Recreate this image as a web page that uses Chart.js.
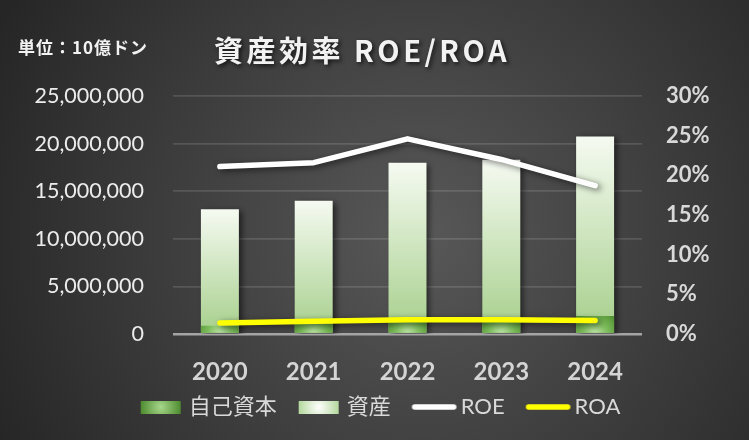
<!DOCTYPE html>
<html>
<head>
<meta charset="utf-8">
<script src="https://cdn.jsdelivr.net/npm/chart.js@4.4.1/dist/chart.umd.min.js"></script>
<style>
  html, body { margin: 0; padding: 0; background: #2b2b2b; }
  #wrap { width: 749px; height: 440px; }
  canvas { display: block; }
</style>
</head>
<body>
<div id="wrap"><canvas id="c" width="749" height="440"></canvas></div>
<script>
// Fiscal years on the category axis
const years = ['2020', '2021', '2022', '2023', '2024'];
// Equity and total assets (unit: billion VND)
const equity = [870000, 1040000, 1320000, 1500000, 1890000];
const assets = [13100000, 14000000, 18000000, 18300000, 20750000];
// Return ratios in percent
const roe = [21.1, 21.6, 24.6, 22.0, 18.7];
const roa = [1.4, 1.6, 1.8, 1.8, 1.7];
// Axis ranges
const amountAxis = [0, 25000000, 5000000];
const rateAxis = [0, 30, 5];
// Texts
const seriesNames = ['自己資本', '資産', 'ROE', 'ROA'];
const titleText = '資産効率 ROE/ROA';
const unitText = '単位：10億ドン';

const BAR_PCT = 0.405;

function barGeom(ctx) {
  const chart = ctx.chart;
  const xs = chart.scales.x, ys = chart.scales.y;
  if (!xs || !ys || ctx.dataIndex === undefined || !chart.chartArea) return null;
  const cx = xs.getPixelForValue(ctx.dataIndex);
  const w = xs.width / years.length * BAR_PCT;
  const base = ys.getPixelForValue(0);
  const top = ys.getPixelForValue(ctx.raw);
  return { cx, w, base, top };
}

function assetFill(ctx) {
  const g = barGeom(ctx);
  if (!g) return '#c5e0b4';
  const grad = ctx.chart.ctx.createLinearGradient(0, g.top, 0, g.base);
  grad.addColorStop(0, '#f5faf1');
  grad.addColorStop(1, '#a6cf8b');
  return grad;
}

function equityFill(ctx) {
  const g = barGeom(ctx);
  if (!g) return '#6aa84f';
  const grad = ctx.chart.ctx.createRadialGradient(g.cx, g.base, 0, g.cx, g.base, g.w * 0.72);
  grad.addColorStop(0, '#c2e6ac');
  grad.addColorStop(0.45, '#7dbd5c');
  grad.addColorStop(1, '#4a892b');
  return grad;
}

// Legend swatches: a wide transparent canvas with the key drawn off-centre,
// so the key sits close to its label and items keep a wider gap between them.
const KEY_SLOT = 49;      // pointStyleWidth reserved per legend key
const KEY_CANVAS = 81;    // swatch canvas width
function makeBoxSwatch(inner, outer) {
  const cv = document.createElement('canvas');
  cv.width = KEY_CANVAS; cv.height = 13;
  const c = cv.getContext('2d');
  const x0 = 28;
  const grad = c.createRadialGradient(x0 + 20, 6.5, 0, x0 + 20, 6.5, 21);
  grad.addColorStop(0, inner);
  grad.addColorStop(1, outer);
  c.fillStyle = grad;
  c.fillRect(x0, 0, 40, 13);
  return cv;
}
function makeLineSwatch(color) {
  const cv = document.createElement('canvas');
  cv.width = KEY_CANVAS; cv.height = 8;
  const c = cv.getContext('2d');
  c.strokeStyle = color;
  c.lineWidth = 5.5;
  c.lineCap = 'round';
  c.beginPath();
  c.moveTo(30, 4);
  c.lineTo(69, 4);
  c.stroke();
  return cv;
}
const swatches = [
  makeBoxSwatch('#a8d88c', '#4b892c'),
  makeBoxSwatch('#ffffff', '#b2d79a'),
  makeLineSwatch('#ffffff'),
  makeLineSwatch('#ffff00')
];

const backdrop = {
  id: 'backdrop',
  beforeDraw(chart) {
    const c = chart.ctx;
    const g = c.createRadialGradient(420, 235, 0, 420, 235, 470);
    g.addColorStop(0, '#585858');
    g.addColorStop(1, '#262626');
    c.save();
    c.fillStyle = g;
    c.fillRect(0, 0, chart.width, chart.height);
    c.restore();
  }
};

const markShadow = {
  id: 'markShadow',
  beforeDatasetDraw(chart, args) {
    const c = chart.ctx;
    c.save();
    if (args.index === 0) return;
    c.shadowColor = 'rgba(0,0,0,0.55)';
    c.shadowBlur = 6;
    c.shadowOffsetX = 3;
    c.shadowOffsetY = 2;
  },
  afterDatasetDraw(chart) {
    chart.ctx.restore();
  }
};

const header = {
  id: 'header',
  afterDraw(chart) {
    const c = chart.ctx;
    c.save();
    c.font = 'bold 17px "Noto Sans CJK JP"';
    c.fillStyle = '#f2f2f2';
    c.textAlign = 'left';
    c.textBaseline = 'middle';
    c.letterSpacing = '1px';
    c.fillText(unitText, 18, 48);
    c.font = 'bold 29px "Noto Sans CJK JP"';
    c.letterSpacing = '3.5px';
    c.textAlign = 'center';
    c.shadowColor = 'rgba(0,0,0,0.7)';
    c.shadowBlur = 4;
    c.shadowOffsetX = 2;
    c.shadowOffsetY = 2;
    c.fillText(titleText, 362, 51);
    c.restore();
  }
};

new Chart(document.getElementById('c'), {
  data: {
    labels: years,
    datasets: [
      {
        type: 'bar', label: seriesNames[0], data: equity, yAxisID: 'y',
        backgroundColor: equityFill, grouped: false, order: 2,
        barPercentage: BAR_PCT, categoryPercentage: 1
      },
      {
        type: 'bar', label: seriesNames[1], data: assets, yAxisID: 'y',
        backgroundColor: assetFill, grouped: false, order: 3,
        barPercentage: BAR_PCT, categoryPercentage: 1
      },
      {
        type: 'line', label: seriesNames[2], data: roe, yAxisID: 'y1',
        borderColor: '#ffffff', borderWidth: 5.5, pointRadius: 0,
        borderCapStyle: 'round', borderJoinStyle: 'round', tension: 0, order: 0
      },
      {
        type: 'line', label: seriesNames[3], data: roa, yAxisID: 'y1',
        borderColor: '#ffff00', borderWidth: 5.5, pointRadius: 0,
        borderCapStyle: 'round', borderJoinStyle: 'round', tension: 0, order: 1
      }
    ]
  },
  options: {
    responsive: false,
    devicePixelRatio: 1,
    animation: false,
    events: [],
    layout: { padding: { top: 96, bottom: 12, left: 0, right: 0 } },
    plugins: {
      tooltip: { enabled: false },
      legend: {
        position: 'bottom',
        labels: {
          usePointStyle: true,
          pointStyleWidth: KEY_SLOT,
          padding: 10,
          color: '#d9d9d9',
          font: { family: 'Lato, "Noto Sans CJK JP"', size: 22 },
          generateLabels(chart) {
            return chart.data.datasets.map((ds, i) => ({
              text: ds.label, pointStyle: swatches[i],
              fillStyle: 'rgba(0,0,0,0)', strokeStyle: 'rgba(0,0,0,0)', lineWidth: 0,
              hidden: false, datasetIndex: i, fontColor: '#d9d9d9'
            }));
          }
        }
      }
    },
    scales: {
      x: {
        grid: { display: false, drawTicks: false },
        border: { display: false },
        ticks: { color: '#d4d4d4', font: { family: 'Lato', size: 24, weight: 'bold' }, padding: 24 },
        afterFit(s) { s.height = 52; }
      },
      y: {
        position: 'left',
        min: amountAxis[0], max: amountAxis[1],
        ticks: {
          stepSize: amountAxis[2], color: '#ececec', padding: 29,
          font: { family: 'Lato', size: 21.5 },
          callback: v => Number(v).toLocaleString('en-US')
        },
        grid: {
          drawTicks: false,
          color: c => (c.tick && c.tick.value === 0) ? '#a5a5a5' : 'rgba(255,255,255,0.13)',
          lineWidth: c => (c.tick && c.tick.value === 0) ? 2.5 : 1.8
        },
        border: { display: false },
        afterFit(s) { s.width = 173; }
      },
      y1: {
        position: 'right',
        min: rateAxis[0], max: rateAxis[1],
        ticks: {
          stepSize: rateAxis[2], color: '#d9d9d9', padding: 24,
          font: { family: 'Lato', size: 22, weight: 'bold' },
          callback: v => v + '%'
        },
        grid: { display: false, drawTicks: false },
        border: { display: false },
        afterFit(s) { s.width = 107; }
      }
    }
  },
  plugins: [backdrop, markShadow, header]
});
</script>
</body>
</html>
